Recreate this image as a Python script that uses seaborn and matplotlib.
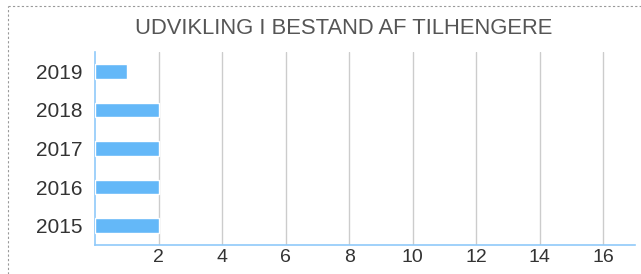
import matplotlib
matplotlib.use("Agg")
import matplotlib.pyplot as plt
import seaborn as sns
import pandas as pd
from matplotlib.lines import Line2D

years = ["2019", "2018", "2017", "2016", "2015"]
values = [1, 2, 2, 2, 2]
xticks = [2, 4, 6, 8, 10, 12, 14, 16]
title = "UDVIKLING I BESTAND AF TILHENGERE"

sns.set_theme(style="white")
plt.rcParams['font.family'] = ['Liberation Sans', 'DejaVu Sans']

df = pd.DataFrame({"year": years, "value": values})

fig = plt.figure(figsize=(6.41, 2.74), dpi=100)
W, H = 641, 274
ax = fig.add_axes([95 / W, (H - 245) / H, (635 - 95) / W, (245 - 52) / H])

sns.barplot(data=df, y="year", x="value", order=years, orient="h",
            color="#64B8F8", saturation=1, width=0.38, ax=ax, zorder=3)

ax.set_xlim(0, 17)
ax.set_ylim(4.5, -0.5)
ax.set_xticks(xticks)
ax.set_xticklabels([str(t) for t in xticks])
ax.xaxis.grid(True, color="#cccccc", linewidth=1, zorder=0)
ax.set_axisbelow(True)
ax.set_xlabel("")
ax.set_ylabel("")
ax.tick_params(axis="both", length=0, labelcolor="#333333")
ax.tick_params(axis="x", pad=3, labelsize=14)
ax.tick_params(axis="y", pad=9, labelsize=15)
for s in ["top", "right"]:
    ax.spines[s].set_visible(False)
for s in ["left", "bottom"]:
    ax.spines[s].set_color("#90CAF9")
    ax.spines[s].set_linewidth(1.2)

fig.text(343.5 / W, 1 - 28 / H, title, ha="center", va="center",
         fontsize=15.8, color="#555555")

# dashed frame edges
fig.add_artist(Line2D([8 / W, 1], [1 - 6 / H, 1 - 6 / H], transform=fig.transFigure,
                      color="#999999", linestyle=(0, (2, 2)), linewidth=0.8))
fig.add_artist(Line2D([8 / W, 8 / W], [0, 1 - 6 / H], transform=fig.transFigure,
                      color="#999999", linestyle=(0, (2, 2)), linewidth=0.8))

fig.savefig("out.png", dpi=100)
